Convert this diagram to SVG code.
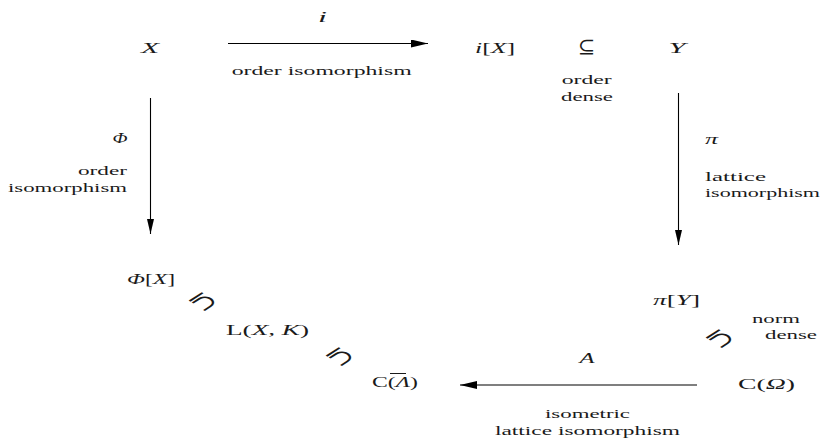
<svg xmlns="http://www.w3.org/2000/svg" width="826" height="439" viewBox="0 0 826 439">
<style>
text{font-family:"Liberation Serif","DejaVu Serif",serif;fill:#1a1a1a;text-anchor:middle}
.m{font-size:15.5px}
.l{font-size:13.5px}
.it{font-style:italic}
.sym{font-family:"DejaVu Serif",serif;font-size:19px;dominant-baseline:central}
.c{stroke:#000;stroke-width:1.1;fill:none}
</style>
<defs>
<marker id="ah" viewBox="0 0 17 8" refX="17" refY="4" markerWidth="17" markerHeight="8" markerUnits="userSpaceOnUse" orient="auto"><path d="M0,0 L17,4 L0,8 z" fill="#000"/></marker>
<marker id="av" viewBox="0 0 15 7" refX="15" refY="3.5" markerWidth="15" markerHeight="7" markerUnits="userSpaceOnUse" orient="auto"><path d="M0,0 L15,3.5 L0,7 z" fill="#000"/></marker>
</defs>
<g id="connectors">
<line class="c" x1="228" y1="43.5" x2="428" y2="43.5" marker-end="url(#ah)"/>
<line class="c" x1="150.5" y1="98" x2="150.5" y2="234" marker-end="url(#av)"/>
<line class="c" x1="678.5" y1="93" x2="678.5" y2="245" marker-end="url(#av)"/>
<line class="c" x1="697" y1="385" x2="460" y2="385" marker-end="url(#ah)"/>
</g>
<g id="labels">
<text class="m it" x="322.5" y="22" textLength="9" lengthAdjust="spacingAndGlyphs">i</text>
<text class="l" x="321.7" y="75" textLength="180" lengthAdjust="spacingAndGlyphs">order isomorphism</text>
<text class="m it" x="120" y="143" textLength="15" lengthAdjust="spacingAndGlyphs">Φ</text>
<text class="l" x="102.5" y="175" textLength="49" lengthAdjust="spacingAndGlyphs">order</text>
<text class="l" x="67.5" y="192" textLength="119" lengthAdjust="spacingAndGlyphs">isomorphism</text>
<text class="m it" x="711.5" y="144" textLength="13" lengthAdjust="spacingAndGlyphs">π</text>
<text class="l" x="735.5" y="181" textLength="61" lengthAdjust="spacingAndGlyphs">lattice</text>
<text class="l" x="762.5" y="196.5" textLength="115" lengthAdjust="spacingAndGlyphs">isomorphism</text>
<text class="m it" x="587" y="363" textLength="15" lengthAdjust="spacingAndGlyphs">A</text>
<text class="l" x="587.5" y="418" textLength="85" lengthAdjust="spacingAndGlyphs">isometric</text>
<text class="l" x="587.5" y="435" textLength="185" lengthAdjust="spacingAndGlyphs">lattice isomorphism</text>
</g>
<g id="node-X"><text class="m it" x="150" y="53" textLength="18" lengthAdjust="spacingAndGlyphs">X</text></g>
<g id="node-iX"><text class="m" x="495" y="53" textLength="40" lengthAdjust="spacingAndGlyphs"><tspan class="it">i</tspan>[<tspan class="it">X</tspan>]</text></g>
<g id="rel-subset-top">
<text class="sym" transform="translate(586.5,46) scale(1.1,1)">⊆</text>
<text class="l" x="586.7" y="84" textLength="50" lengthAdjust="spacingAndGlyphs">order</text>
<text class="l" x="587" y="101" textLength="52" lengthAdjust="spacingAndGlyphs">dense</text>
</g>
<g id="node-Y"><text class="m it" x="677" y="53" textLength="17" lengthAdjust="spacingAndGlyphs">Y</text></g>
<g id="node-PhiX"><text class="m" x="151" y="284" textLength="48" lengthAdjust="spacingAndGlyphs"><tspan class="it">Φ</tspan>[<tspan class="it">X</tspan>]</text></g>
<g id="rel-subset-1"><text class="sym" transform="translate(204,302) scale(1.55,1) rotate(135)">⊆</text></g>
<g id="node-LXK"><text class="m" x="267.5" y="335" textLength="83" lengthAdjust="spacingAndGlyphs">L(<tspan class="it">X</tspan>, <tspan class="it">K</tspan>)</text></g>
<g id="rel-subset-2"><text class="sym" transform="translate(341,357) scale(1.55,1) rotate(135)">⊆</text></g>
<g id="node-CLambda"><text class="m" x="395" y="387" textLength="46" lengthAdjust="spacingAndGlyphs">C(<tspan class="it">Λ</tspan>)</text><line x1="390" y1="373.5" x2="406" y2="373.5" stroke="#000" stroke-width="0.9"/></g>
<g id="node-piY"><text class="m" x="676.5" y="305" textLength="47" lengthAdjust="spacingAndGlyphs"><tspan class="it">π</tspan>[<tspan class="it">Y</tspan>]</text></g>
<g id="rel-subset-3">
<text class="sym" transform="translate(721,339) scale(1.55,1) rotate(135)">⊆</text>
<text class="l" x="776" y="323" textLength="48" lengthAdjust="spacingAndGlyphs">norm</text>
<text class="l" x="791" y="338.5" textLength="52" lengthAdjust="spacingAndGlyphs">dense</text>
</g>
<g id="node-COmega"><text class="m" x="766.5" y="389" textLength="57" lengthAdjust="spacingAndGlyphs">C(<tspan class="it">Ω</tspan>)</text></g>
</svg>
